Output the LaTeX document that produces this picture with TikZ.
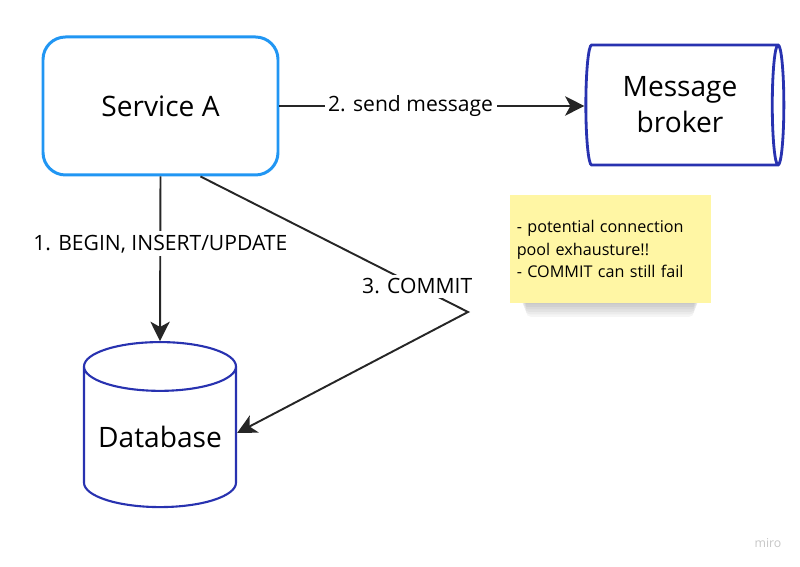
\documentclass[tikz,border=0pt]{standalone}
\usepackage{fontspec}
\setmainfont{Open Sans}
\usetikzlibrary{positioning,arrows.meta,shapes.geometric,calc}
\definecolor{serviceblue}{RGB}{33,150,243}
\definecolor{storeblue}{RGB}{40,50,176}
\definecolor{noteyellow}{RGB}{255,246,164}
\definecolor{arrowgray}{RGB}{38,38,38}

\begin{document}
\begin{tikzpicture}[
        service/.style={draw=serviceblue, line width=1.7pt, rounded corners=0.45cm,
            minimum width=4.7cm, minimum height=2.76cm, font=\fontsize{16}{19}\selectfont},
        brokerbox/.style={cylinder, draw=storeblue, line width=1.6pt, aspect=0.17,
            minimum width=2.4cm, minimum height=3.96cm, align=center,
            font=\fontsize{16}{20.5}\selectfont},
        dbbox/.style={cylinder, shape border rotate=90, draw=storeblue, line width=1.2pt,
            aspect=0.36, minimum width=3.04cm, minimum height=3.3cm,
            font=\fontsize{16}{19}\selectfont},
        flow/.style={draw=arrowgray, line width=1.1pt, -{Stealth[length=11pt,width=11pt,inset=3pt]}},
        lbl/.style={fill=white, inner sep=2pt, font=\fontsize{12}{14}\selectfont},
        note/.style={fill=noteyellow, minimum width=4.02cm, minimum height=2.16cm,
            text width=3.75cm, align=left, font=\fontsize{9.2}{13}\selectfont}
    ]
        \useasboundingbox (0,0) rectangle (16,11.32);

        % boxes
        \node[service] (sa) at (3.21,9.2) {Service A};
        \node[brokerbox] (mb) at (13.6,9.22) {Message\\broker};
        \node[dbbox] (db) at (3.2,2.48) {\raisebox{0.22cm}{Database}};

        % sticky note with its shadow
        \foreach \s in {1,...,6}
            \fill[black, opacity=0.04, rounded corners=3pt]
                (10.4+0.02*\s,5.28-0.05*\s) rectangle (14.0-0.02*\s,5.9);
        \node[note] (nt) at (12.21,6.34) {- potential connection\\pool exhausture!!\\- COMMIT can still fail};

        % connectors
        \draw[flow] (sa) -- node[lbl, pos=0.43] {2. send message} (sa -| mb.west);
        \draw[flow] (sa.south) -- node[lbl, pos=0.41] {1. BEGIN, INSERT/UPDATE} (db.north);
        \coordinate (turn) at (9.36,5.08);
        \draw[flow] ([xshift=0.8cm]sa.south) -- node[lbl, pos=0.81] {3. COMMIT} (turn) -- ([yshift=0.18cm]db.east);

        % watermark
        \node[text=gray!45, font=\fontsize{7}{8}\selectfont] (wm) at (15.36,0.46) {miro};
\end{tikzpicture}
\end{document}
